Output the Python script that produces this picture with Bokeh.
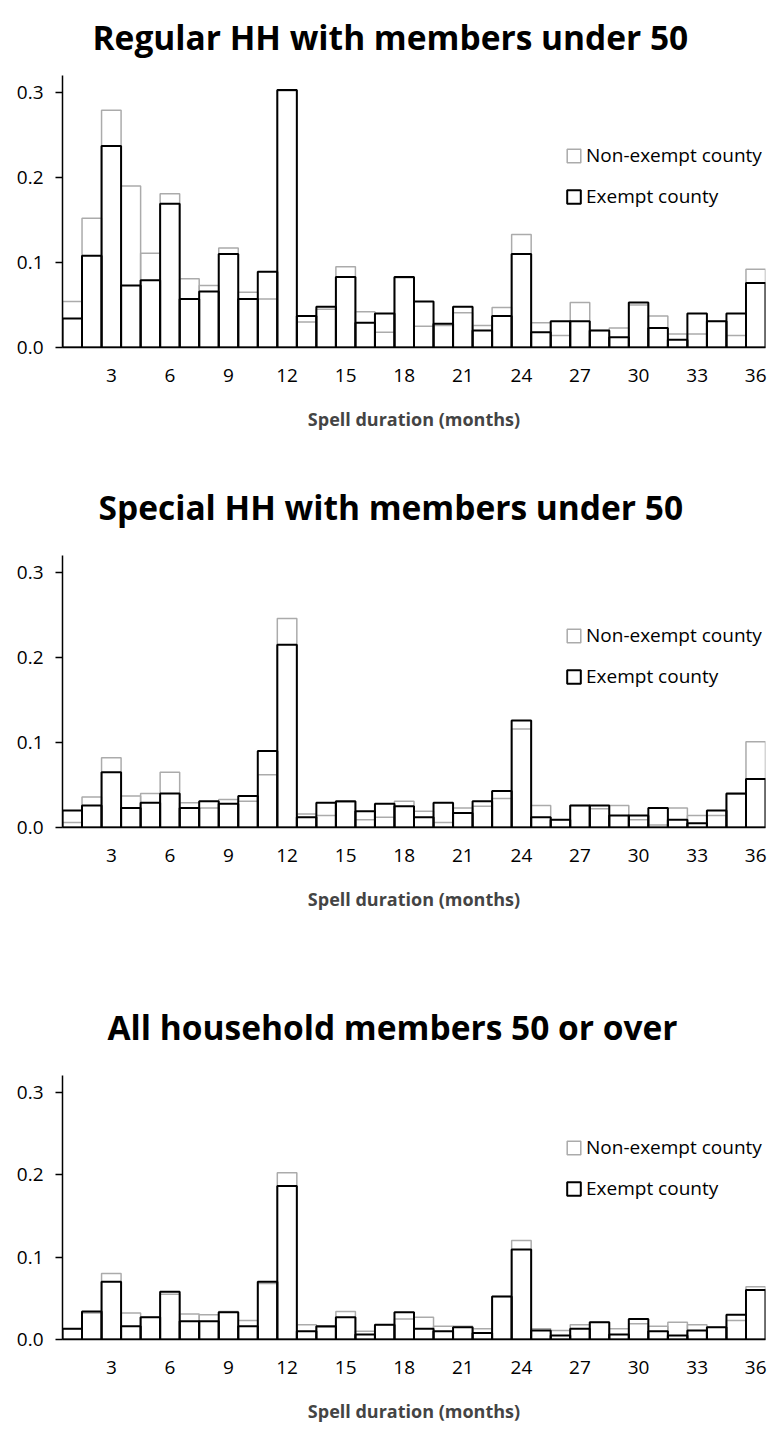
from bokeh.plotting import figure
from bokeh.models import (FixedTicker, Legend, LegendItem, ColumnDataSource,
                          Range1d, PrintfTickFormatter)
from bokeh.layouts import column
from bokeh.embed import file_html
from bokeh.resources import INLINE

months = list(range(1, 37))
x_ticks = [3, 6, 9, 12, 15, 18, 21, 24, 27, 30, 33, 36]
y_ticks = [0.0, 0.1, 0.2, 0.3]

titles = ["Regular HH with members under 50",
          "Special HH with members under 50",
          "All household members 50 or over"]
series_names = ["Non-exempt county", "Exempt county"]
x_title = "Spell duration (months)"

regular_exempt = [0.034, 0.108, 0.237, 0.073, 0.079, 0.169, 0.057, 0.066, 0.110, 0.057, 0.089, 0.303,
                  0.037, 0.048, 0.083, 0.029, 0.040, 0.083, 0.054, 0.028, 0.048, 0.020, 0.037, 0.110,
                  0.018, 0.031, 0.031, 0.020, 0.012, 0.053, 0.023, 0.009, 0.040, 0.031, 0.040, 0.076]
regular_nonexempt = [0.054, 0.152, 0.279, 0.190, 0.111, 0.181, 0.081, 0.073, 0.117, 0.065, 0.057, 0.302,
                     0.030, 0.045, 0.095, 0.042, 0.018, 0.082, 0.025, 0.026, 0.041, 0.026, 0.047, 0.133,
                     0.029, 0.014, 0.053, 0.020, 0.023, 0.050, 0.037, 0.016, 0.016, 0.031, 0.014, 0.092]

special_exempt = [0.020, 0.026, 0.065, 0.023, 0.029, 0.040, 0.023, 0.031, 0.028, 0.037, 0.090, 0.215,
                  0.012, 0.029, 0.031, 0.019, 0.028, 0.025, 0.012, 0.029, 0.017, 0.031, 0.043, 0.126,
                  0.012, 0.009, 0.026, 0.026, 0.014, 0.014, 0.023, 0.009, 0.005, 0.020, 0.040, 0.057]
special_nonexempt = [0.006, 0.036, 0.082, 0.037, 0.040, 0.065, 0.029, 0.023, 0.033, 0.031, 0.062, 0.246,
                     0.016, 0.014, 0.030, 0.009, 0.012, 0.031, 0.019, 0.006, 0.023, 0.025, 0.034, 0.116,
                     0.026, 0.009, 0.026, 0.022, 0.026, 0.009, 0.003, 0.023, 0.014, 0.014, 0.039, 0.101]

older_exempt = [0.013, 0.034, 0.070, 0.016, 0.027, 0.058, 0.022, 0.022, 0.033, 0.016, 0.070, 0.186,
                0.010, 0.016, 0.027, 0.006, 0.018, 0.033, 0.013, 0.010, 0.015, 0.008, 0.052, 0.109,
                0.011, 0.005, 0.013, 0.021, 0.006, 0.025, 0.010, 0.005, 0.011, 0.015, 0.030, 0.060]
older_nonexempt = [0.013, 0.032, 0.080, 0.032, 0.027, 0.055, 0.031, 0.030, 0.034, 0.023, 0.068, 0.202,
                   0.018, 0.015, 0.034, 0.010, 0.018, 0.025, 0.027, 0.016, 0.016, 0.013, 0.052, 0.120,
                   0.013, 0.011, 0.018, 0.021, 0.013, 0.019, 0.016, 0.021, 0.018, 0.015, 0.023, 0.064]

FONT = "Open Sans"
GREY = "#ababab"
FRAME_H = 274
LEFT_B = 62


def make_panel(title, title_offset, exempt, nonexempt, top_b, bottom_b,
               standoff, frame_h=FRAME_H):
    p = figure(width=771, height=top_b + frame_h + bottom_b,
               min_border_left=LEFT_B, min_border_right=6,
               min_border_top=top_b, min_border_bottom=bottom_b,
               x_range=Range1d(0.5, 36.5), y_range=Range1d(0, 0.32),
               output_backend="svg", toolbar_location=None)
    src = ColumnDataSource(dict(left=[m - 0.5 for m in months],
                                right=[m + 0.5 for m in months],
                                non=nonexempt, ex=exempt))
    r_non = p.quad(left="left", right="right", bottom=0, top="non", source=src,
                   fill_color=None, line_color=GREY, line_width=1.5)
    r_ex = p.quad(left="left", right="right", bottom=0, top="ex", source=src,
                  fill_color=None, line_color="black", line_width=2)

    legend = Legend(items=[LegendItem(label=series_names[0], renderers=[r_non]),
                           LegendItem(label=series_names[1], renderers=[r_ex])],
                    location=(503, 138), glyph_width=17, glyph_height=17,
                    label_height=26, spacing=15, padding=0, margin=0,
                    label_standoff=4, border_line_color=None,
                    background_fill_alpha=0, label_text_font=FONT,
                    label_text_font_size="19px", label_text_color="black")
    p.add_layout(legend)

    p.title.text = title
    p.title.align = "left"
    p.title.vertical_align = "top"
    p.title.offset = title_offset
    p.title.standoff = standoff
    p.title.text_font = FONT
    p.title.text_font_size = "33.5px"
    p.title.text_font_style = "bold"
    p.title.text_color = "black"

    p.xaxis.ticker = FixedTicker(ticks=x_ticks)
    p.xaxis.major_tick_out = 0
    p.xaxis.major_tick_in = 0
    p.xaxis.minor_tick_line_color = None
    p.xaxis.axis_line_width = 1.5
    p.xaxis.major_label_standoff = 21
    p.xaxis.axis_label = x_title
    p.xaxis.axis_label_text_font = FONT
    p.xaxis.axis_label_text_font_style = "bold"
    p.xaxis.axis_label_text_font_size = "18px"
    p.xaxis.axis_label_standoff = 22

    p.yaxis.ticker = FixedTicker(ticks=y_ticks)
    p.yaxis.formatter = PrintfTickFormatter(format="%.1f")
    p.yaxis.major_tick_out = 7
    p.yaxis.major_tick_in = 0
    p.yaxis.minor_tick_line_color = None
    p.yaxis.axis_line_width = 1.5
    p.yaxis.major_tick_line_width = 1.5
    p.yaxis.major_label_standoff = 12

    for ax in (p.xaxis, p.yaxis):
        ax.major_label_text_font = FONT
        ax.major_label_text_font_size = "19px"
        ax.major_label_text_color = "black"
        ax.axis_line_color = "black"

    p.grid.visible = False
    p.outline_line_color = None
    return p


p1 = make_panel(titles[0], 30, regular_exempt, regular_nonexempt, 73, 113, standoff=27)
p2 = make_panel(titles[1], 36, special_exempt, special_nonexempt, 93, 153, standoff=47)
p3 = make_panel(titles[2], 45, older_exempt, older_nonexempt, 93, 78, standoff=47)

p = column(p1, p2, p3)
open("out.html", "w").write(file_html(p, INLINE))
